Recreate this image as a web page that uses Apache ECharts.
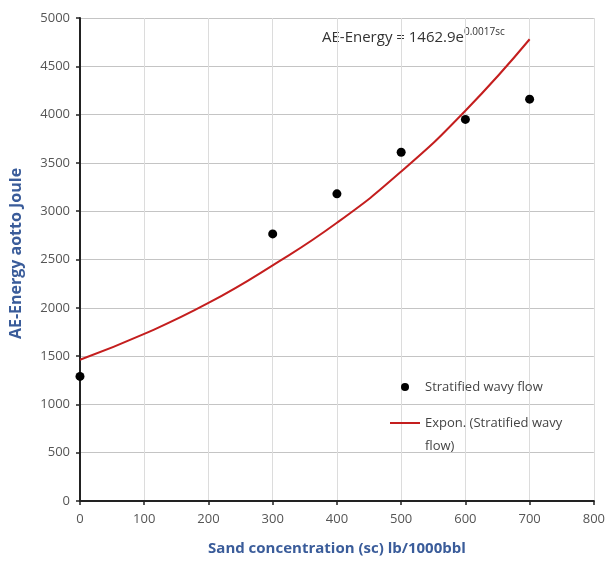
<!DOCTYPE html>
<html><head><meta charset="utf-8">
<script src="https://cdn.jsdelivr.net/npm/echarts@6/dist/echarts.min.js"></script>
<style>html,body{margin:0;padding:0;background:#fff}#c{width:608px;height:561px}</style>
</head><body><div id="c"></div>
<script>
const xTicks = [0,100,200,300,400,500,600,700,800];
const yTicks = [0,500,1000,1500,2000,2500,3000,3500,4000,4500,5000];
const sandConc = [0,300,400,500,600,700];
const aeEnergy = [1290,2765,3180,3610,3950,4160];
const trendX = [0,100,200,300,400,500,600,700];
const trendY = [1462,1730,2050,2440,2880,3410,4040,4780];
const seriesNames = ['Stratified wavy flow','Expon. (Stratified wavy flow)'];

const chart = echarts.init(document.getElementById('c'), null, {renderer:'canvas'});
const font = '"Open Sans", "Liberation Sans", sans-serif';
chart.setOption({
  animation:false,
  backgroundColor:'#fff',
  grid:{left:80,right:11,top:18,bottom:59,containLabel:false},
  xAxis:{type:'value',min:0,max:800,interval:100,
    name:'Sand concentration (sc) lb/1000bbl',nameLocation:'middle',nameGap:40,
    nameTextStyle:{color:'#3a5c9a',fontWeight:'bold',fontSize:15,fontFamily:font},
    axisLine:{lineStyle:{color:'#222',width:2}},
    axisTick:{show:true,length:4,lineStyle:{color:'#222',width:1.5}},
    axisLabel:{color:'#555',fontSize:13,margin:12,fontFamily:font},
    splitLine:{show:true,lineStyle:{color:'#dcdcdc',width:1}}},
  yAxis:{type:'value',min:0,max:5000,interval:500,
    name:'AE-Energy aotto Joule',nameLocation:'middle',nameGap:56,
    nameTextStyle:{color:'#3a5c9a',fontWeight:'bold',fontSize:16,fontFamily:font,padding:[0,0,0,12]},
    axisLine:{show:true,lineStyle:{color:'#222',width:2}},
    axisTick:{show:true,length:4,lineStyle:{color:'#222',width:1.5}},
    axisLabel:{color:'#555',fontSize:13,margin:10,fontFamily:font,formatter:function(v){return String(v);}},
    splitLine:{show:true,lineStyle:{color:'#c4c4c4',width:1}}},
  legend:{orient:'vertical',left:390,top:376,padding:0,itemGap:14,itemWidth:30,itemHeight:8,
    textStyle:{color:'#444',fontSize:13,fontFamily:font,lineHeight:22},
    formatter:function(n){return n===seriesNames[1]?'Expon. (Stratified wavy':n;},
    data:[{name:seriesNames[0],icon:'circle',itemStyle:{color:'#000',opacity:1}},
          {name:seriesNames[1],icon:'path://M0,0L30,0L30,2L0,2Z',itemStyle:{color:'#c41e1e'}}]},
  series:[
    {name:seriesNames[0],type:'scatter',symbolSize:9,itemStyle:{color:'#000',opacity:1},
      data:sandConc.map((x,i)=>[x,aeEnergy[i]]),z:3},
    {name:seriesNames[1],type:'line',smooth:true,symbol:'none',
      lineStyle:{color:'#c41e1e',width:2},itemStyle:{color:'#c41e1e'},
      data:trendX.map((x,i)=>[x,trendY[i]]),z:2}
  ],
  graphic:[
    {type:'text',left:322,top:27,style:{
      text:'{a|AE-Energy = 1462.9e}{s|0.0017sc}',
      rich:{a:{fontSize:15,fill:'#333',fontFamily:font,verticalAlign:'bottom'},
            s:{fontSize:10,fill:'#333',fontFamily:font,verticalAlign:'top',padding:[0,0,8,0]}}}},
    {type:'text',left:425,top:440,style:{text:'flow)',fontSize:13,fill:'#444',fontFamily:font}}
  ]
});
</script></body></html>
